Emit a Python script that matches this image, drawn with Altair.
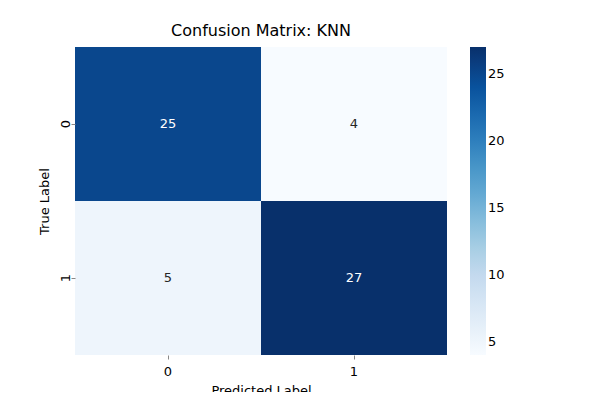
import altair as alt
import pandas as pd

true_labels = ["0", "0", "1", "1"]
pred_labels = ["0", "1", "0", "1"]
counts = [25, 4, 5, 27]

df = pd.DataFrame({"True": true_labels, "Pred": pred_labels, "Count": counts})

blues = ["#f7fbff", "#deebf7", "#c6dbef", "#9ecae1", "#6baed6",
         "#4292c6", "#2171b5", "#08519c", "#08306b"]
font = "DejaVu Sans"

base = alt.Chart(df).encode(
    x=alt.X("Pred:N", title="Predicted Label",
            axis=alt.Axis(labelAngle=0, domain=False, tickSize=4, labelFontSize=13,
                          titleFontSize=13, titleFontWeight="normal", labelPadding=6,
                          titlePadding=6, labelFont=font, titleFont=font,
                          labelColor="black", titleColor="black")),
    y=alt.Y("True:N", title="True Label",
            axis=alt.Axis(labelAngle=-90, domain=False, tickSize=4, labelFontSize=13,
                          titleFontSize=13, titleFontWeight="normal", labelPadding=6,
                          titlePadding=8, labelFont=font, titleFont=font,
                          labelBaseline="middle", labelAlign="center",
                          labelColor="black", titleColor="black")),
)

rects = base.mark_rect().encode(
    color=alt.Color("Count:Q", title=None,
                    scale=alt.Scale(domain=[4, 27], range=blues),
                    legend=alt.Legend(gradientLength=308, gradientThickness=16,
                                      offset=23, padding=0, values=[5, 10, 15, 20, 25],
                                      labelFontSize=13, labelFont=font, labelColor="black",
                                      gradientStrokeWidth=0))
)

text = base.mark_text(fontSize=13, font=font).encode(
    text="Count:Q",
    color=alt.condition(alt.datum.Count > 15, alt.value("white"), alt.value("#262626")),
)

chart = (
    (rects + text)
    .properties(width=372, height=308,
                title=alt.TitleParams("Confusion Matrix: KNN", fontSize=16, font=font,
                                      fontWeight="normal", offset=8, color="black"),
                autosize=alt.AutoSizeParams(type="none"),
                padding={"left": 67, "top": 39, "right": 145, "bottom": 37})
    .configure_view(stroke=None)
    .configure_scale(bandPaddingInner=0, bandPaddingOuter=0)
)

chart.save("out.html", embed_options={"renderer": "svg", "actions": False})
